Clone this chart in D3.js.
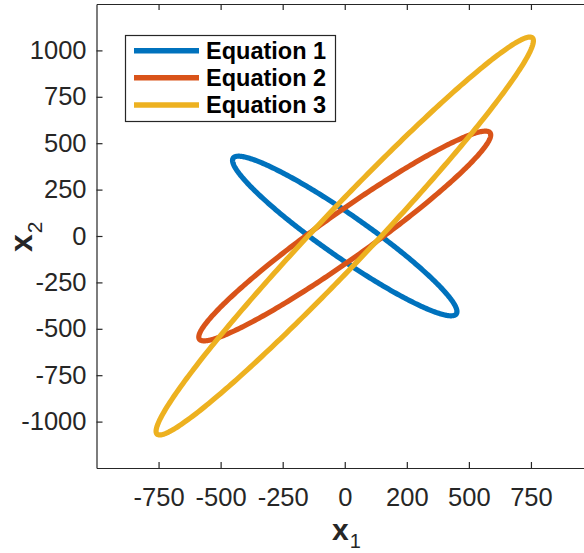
<!DOCTYPE html>
<html>
<head>
<meta charset="utf-8">
<script src="https://cdn.jsdelivr.net/npm/d3@7"></script>
<style>
  html, body { margin: 0; padding: 0; background: #fff; }
  svg { display: block; }
</style>
</head>
<body>
<svg id="chart" width="584" height="553"></svg>
<script>
// ---- data ----
const seriesNames = ["Equation 1", "Equation 2", "Equation 3"];
const seriesColors = ["#0072BD", "#D95319", "#EDB120"];
// ellipse descriptors: max |x1|, max |x2|, x2 where the curve crosses x1 = 0, orientation sign
const xExtent = [452, 588, 760];
const yExtent = [430, 565, 1072];
const yIntercept = [138, 152, 208];
const slopeSign = [-1, 1, 1];
const xTickValues = [-750, -500, -250, 0, 250, 500, 750];
const xTickLabels = ["-750", "-500", "-250", "0", "200", "500", "750"];
const yTickValues = [-1000, -750, -500, -250, 0, 250, 500, 750, 1000];
const yTickLabels = ["-1000", "-750", "-500", "-250", "0", "250", "500", "750", "1000"];

const svg = d3.select("#chart");
const L = 96.5, R = 593, T = 4, B = 468;
const x = d3.scaleLinear().domain([-1000, 1000]).range([L, R]);
const y = d3.scaleLinear().domain([-1250, 1250]).range([B, T]);
const axisColor = "#262626";
const font = "Arial, 'Liberation Sans', Helvetica, sans-serif";

svg.append("defs").append("clipPath").attr("id", "clip")
  .append("rect").attr("x", L).attr("y", T).attr("width", R - L).attr("height", B - T);

// ellipses
const tSteps = d3.range(0, 361).map(d => d * Math.PI / 180);
const line = d3.line().x(d => x(d[0])).y(d => y(d[1])).curve(d3.curveLinearClosed);
const g = svg.append("g").attr("clip-path", "url(#clip)");
seriesNames.forEach((name, i) => {
  const phi = Math.asin(yIntercept[i] / yExtent[i]);
  const pts = tSteps.map(t => [xExtent[i] * Math.cos(t), slopeSign[i] * yExtent[i] * Math.cos(t - phi)]);
  g.append("path").datum(pts)
    .attr("d", line)
    .attr("fill", "none")
    .attr("stroke", seriesColors[i])
    .attr("stroke-width", 5.2)
    .attr("stroke-linejoin", "round");
});

// axes
const ax = svg.append("g");
const tickLen = 6;
function styleAxis(sel) {
  sel.select(".domain").attr("stroke", axisColor).attr("stroke-width", 1.2);
  sel.selectAll(".tick line").attr("stroke", axisColor).attr("stroke-width", 1.2);
  sel.selectAll(".tick text").attr("fill", axisColor).style("font-family", font).style("font-size", "25.5px");
}
const xb = ax.append("g").attr("transform", `translate(0,${B})`)
  .call(d3.axisBottom(x).tickValues(xTickValues).tickFormat((d, i) => xTickLabels[i]).tickSizeInner(-tickLen).tickSizeOuter(0).tickPadding(20));
styleAxis(xb);
xb.selectAll(".tick text").attr("dy", "0.71em");
const xt = ax.append("g").attr("transform", `translate(0,${T})`)
  .call(d3.axisTop(x).tickValues(xTickValues).tickFormat("").tickSizeInner(-tickLen).tickSizeOuter(0));
styleAxis(xt);
const yl = ax.append("g").attr("transform", `translate(${L},0)`)
  .call(d3.axisLeft(y).tickValues(yTickValues).tickFormat((d, i) => yTickLabels[i]).tickSizeInner(-tickLen).tickSizeOuter(0).tickPadding(10));
styleAxis(yl);
const yr = ax.append("g").attr("transform", `translate(${R},0)`)
  .call(d3.axisRight(y).tickValues(yTickValues).tickFormat("").tickSizeInner(-tickLen).tickSizeOuter(0));
styleAxis(yr);

// axis labels
const xlab = svg.append("text").attr("x", 332).attr("y", 540)
  .attr("fill", axisColor).style("font-family", font);
xlab.append("tspan").text("x").style("font-size", "30px").style("font-weight", "bold");
xlab.append("tspan").text("1").attr("dy", 8).attr("dx", 1).style("font-size", "20px");

const ylab = svg.append("text").attr("transform", "translate(32,252) rotate(-90)")
  .attr("fill", axisColor).style("font-family", font);
ylab.append("tspan").text("x").style("font-size", "32px").style("font-weight", "bold");
ylab.append("tspan").text("2").attr("dy", 10).attr("dx", 1).style("font-size", "21px");

// legend
const lg = svg.append("g");
lg.append("rect").attr("x", 125.5).attr("y", 35.5).attr("width", 210).attr("height", 86)
  .attr("fill", "#fff").attr("stroke", axisColor).attr("stroke-width", 1.2);
const legY = [50.7, 77.7, 105];
seriesNames.forEach((name, i) => {
  lg.append("line").attr("x1", 134).attr("x2", 199).attr("y1", legY[i]).attr("y2", legY[i])
    .attr("stroke", seriesColors[i]).attr("stroke-width", 5.5);
  lg.append("text").attr("x", 206).attr("y", legY[i]).attr("dy", "0.36em")
    .attr("fill", "#000").style("font-family", font).style("font-size", "23.5px").style("font-weight", "bold")
    .text(name);
});
</script>
</body>
</html>
